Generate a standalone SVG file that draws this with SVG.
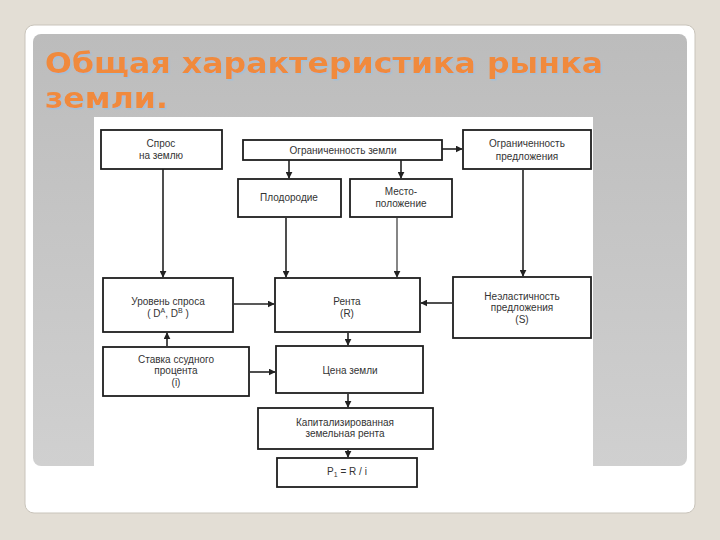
<svg xmlns="http://www.w3.org/2000/svg" width="720" height="540" viewBox="0 0 720 540">
<defs>
<linearGradient id="pg" x1="0" y1="0" x2="0" y2="1">
<stop offset="0" stop-color="#bcbcbc"/>
<stop offset="1" stop-color="#d0d0d0"/>
</linearGradient>
<filter id="ts" x="-5%" y="-20%" width="110%" height="140%">
<feDropShadow dx="1.5" dy="1.5" stdDeviation="0.6" flood-color="#9fc0dc" flood-opacity="0.9"/>
</filter>
<marker id="ah" viewBox="0 0 10 10" refX="9" refY="5" markerWidth="7" markerHeight="7" orient="auto" markerUnits="userSpaceOnUse">
<path d="M0,0 L10,5 L0,10 z" fill="#222"/>
</marker>
</defs>
<style>
.box{fill:#fff;stroke:#1e1e1e;stroke-width:1.8}
.t{font-family:"Liberation Sans",Arial,sans-serif;font-size:10px;fill:#333;text-anchor:middle}
.c{stroke:#222;stroke-width:1.6;fill:none;marker-end:url(#ah)}
.title{font-family:"DejaVu Sans",Verdana,sans-serif;font-weight:bold;font-size:29px;fill:#f08a3c}
</style>
<rect x="0" y="0" width="720" height="540" fill="#e3ded5"/>
<rect x="25" y="25" width="670" height="488" rx="9" fill="#ffffff" stroke="#c9c4bb" stroke-width="1"/>
<rect x="33" y="34" width="654" height="432" rx="8" fill="url(#pg)"/>
<g filter="url(#ts)">
<text class="title" x="45" y="73" textLength="558" lengthAdjust="spacingAndGlyphs">Общая характеристика рынка</text>
<text class="title" x="45" y="108" textLength="123" lengthAdjust="spacingAndGlyphs">земли.</text>
</g>
<rect x="94" y="117" width="499" height="373" fill="#ffffff"/>

<g id="connectors">
<line class="c" x1="163" y1="169" x2="163" y2="277"/>
<line class="c" x1="289" y1="160" x2="289" y2="178"/>
<line class="c" x1="401" y1="160" x2="401" y2="178"/>
<line class="c" x1="442" y1="149" x2="462" y2="149"/>
<line class="c" x1="286" y1="218" x2="286" y2="277"/>
<line class="c" x1="397" y1="218" x2="397" y2="277" style="stroke-width:1.1"/>
<line class="c" x1="523" y1="170" x2="523" y2="276"/>
<line class="c" x1="234" y1="304" x2="274" y2="304"/>
<line class="c" x1="452" y1="303" x2="421" y2="303"/>
<line class="c" x1="167" y1="346" x2="167" y2="333"/>
<line class="c" x1="250" y1="372" x2="275" y2="372"/>
<line class="c" x1="348" y1="333" x2="348" y2="345"/>
<line class="c" x1="348" y1="394" x2="348" y2="407"/>
<line class="c" x1="348" y1="450" x2="348" y2="457"/>
</g>

<g id="spros">
<rect class="box" x="101" y="130" width="121" height="39"/>
<text class="t" x="161" y="147">Спрос</text>
<text class="t" x="161" y="159">на землю</text>
</g>
<g id="ogr-zemli">
<rect class="box" x="243" y="140" width="199" height="20"/>
<text class="t" x="343" y="153.5">Ограниченность земли</text>
</g>
<g id="ogr-predl">
<rect class="box" x="463" y="130" width="128" height="39"/>
<text class="t" x="527" y="147">Ограниченность</text>
<text class="t" x="527" y="160">предложения</text>
</g>
<g id="plodorodie">
<rect class="box" x="238" y="179" width="103" height="38"/>
<text class="t" x="289" y="201">Плодородие</text>
</g>
<g id="mesto">
<rect class="box" x="350" y="179" width="102" height="38"/>
<text class="t" x="401" y="195">Место-</text>
<text class="t" x="401" y="207">положение</text>
</g>
<g id="uroven">
<rect class="box" x="103" y="278" width="130" height="54"/>
<text class="t" x="168" y="305">Уровень спроса</text>
<text class="t" x="168" y="317">( D<tspan font-size="7" dy="-4">A</tspan><tspan dy="4">, D</tspan><tspan font-size="7" dy="-4">B</tspan><tspan dy="4"> )</tspan></text>
</g>
<g id="renta">
<rect class="box" x="275" y="278" width="145" height="54"/>
<text class="t" x="347" y="305">Рента</text>
<text class="t" x="347" y="317">(R)</text>
</g>
<g id="neelast">
<rect class="box" x="453" y="277" width="138" height="61"/>
<text class="t" x="522" y="300">Неэластичность</text>
<text class="t" x="522" y="311">предложения</text>
<text class="t" x="522" y="323">(S)</text>
</g>
<g id="stavka">
<rect class="box" x="103" y="347" width="146" height="49"/>
<text class="t" x="176" y="363">Ставка ссудного</text>
<text class="t" x="176" y="374">процента</text>
<text class="t" x="176" y="386">(i)</text>
</g>
<g id="cena">
<rect class="box" x="276" y="346" width="147" height="47"/>
<text class="t" x="350" y="374">Цена земли</text>
</g>
<g id="kapital">
<rect class="box" x="258" y="408" width="175" height="41"/>
<text class="t" x="345" y="426">Капитализированная</text>
<text class="t" x="345" y="437">земельная рента</text>
</g>
<g id="formula">
<rect class="box" x="277" y="458" width="140" height="29"/>
<text class="t" x="347" y="475">P<tspan font-size="7" dy="2">1</tspan><tspan dy="-2"> = R / i</tspan></text>
</g>
</svg>
